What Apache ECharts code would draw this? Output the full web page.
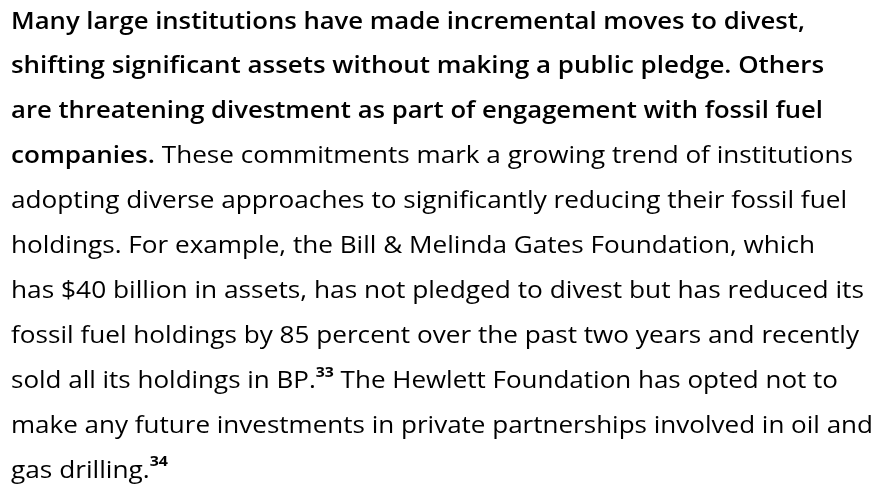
<!DOCTYPE html>
<html>
<head>
<meta charset="utf-8">
<script src="https://cdn.jsdelivr.net/npm/echarts@6/dist/echarts.min.js"></script>
<style>
  html, body { margin: 0; padding: 0; background: #fff; }
  #main { width: 876px; height: 490px; }
</style>
</head>
<body>
<div id="main"></div>
<script>
// paragraph lines, each a list of [style, text] pieces
const lines = [
  [['b', 'Many large institutions have made incremental moves to divest,']],
  [['b', 'shifting significant assets without making a public pledge. Others']],
  [['b', 'are threatening divestment as part of engagement with fossil fuel']],
  [['b', 'companies.'], ['r', ' These commitments mark a growing trend of institutions']],
  [['r', 'adopting diverse approaches to significantly reducing their fossil fuel']],
  [['r', 'holdings. For example, the Bill & Melinda Gates Foundation, which']],
  [['r', 'has $40 billion in assets, has not pledged to divest but has reduced its']],
  [['r', 'fossil fuel holdings by 85 percent over the past two years and recently']],
  [['r', 'sold all its holdings in BP.'], ['sup', '33'], ['r', ' The Hewlett Foundation has opted not to']],
  [['r', 'make any future investments in private partnerships involved in oil and']],
  [['r', 'gas drilling.'], ['sup', '34']]
];
// right edge of each line in the reference (layout only)
const lineEnds = [805, 824, 823, 853, 847, 815, 864, 859, 838, 873, 168];

const chart = echarts.init(document.getElementById('main'));
const font = 'Open Sans';
const padLeft = 11, firstTop = 6.5, step = 44.9;

const rich = {
  b: { fontFamily: font, fontWeight: 600, fontSize: 23, color: '#5a5350', lineHeight: 31 },
  r: { fontFamily: font, fontWeight: 'normal', fontSize: 23, color: '#6b6461', lineHeight: 31 },
  sup: { fontFamily: font, fontWeight: 'bold', fontSize: 14, color: '#5a5350', lineHeight: 31, verticalAlign: 'top', padding: [0, 0, 10, 0] }
};

// natural width of a line, to stretch it to the reference width
const ctx = document.createElement('canvas').getContext('2d');
function lineWidth(segs) {
  let w = 0;
  segs.forEach(([k, t]) => {
    const s = rich[k];
    ctx.font = s.fontWeight + ' ' + s.fontSize + 'px "' + s.fontFamily + '"';
    w += ctx.measureText(t).width;
  });
  return w;
}

const elements = lines.map((segs, i) => ({
  type: 'text',
  x: padLeft,
  y: firstTop + i * step,
  scaleX: (lineEnds[i] - padLeft) / lineWidth(segs),
  originX: 0,
  style: {
    text: segs.map(([k, t]) => '{' + k + '|' + t + '}').join(''),
    rich: rich
  }
}));

chart.setOption({
  backgroundColor: '#ffffff',
  graphic: { elements: elements }
});
</script>
</body>
</html>
